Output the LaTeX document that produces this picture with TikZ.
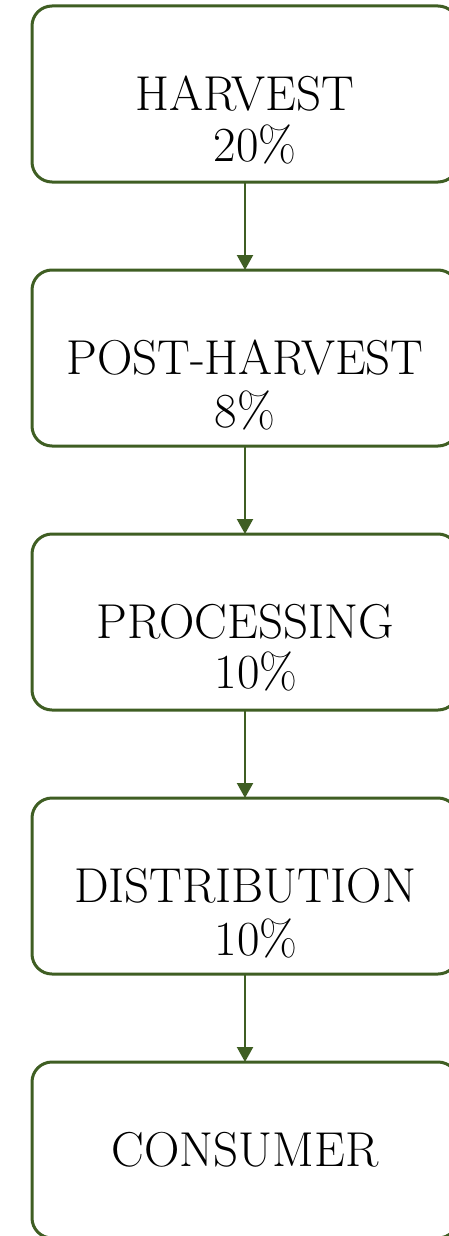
\documentclass[tikz,border=0pt]{standalone}
\usetikzlibrary{positioning,arrows.meta}
\definecolor{leafgreen}{RGB}{63,94,35}

\begin{document}
\begin{tikzpicture}[x=1pt,y=-1pt,
    stagebox/.style={draw=leafgreen, line width=3pt, rounded corners=20pt,
        outer sep=0pt, minimum width=426pt, minimum height=176pt},
    stagename/.style={font=\fontsize{49}{58}\selectfont},
    stagepct/.style={font=\fontsize{49}{58}\selectfont, anchor=base},
    flow/.style={draw=leafgreen, line width=2.2pt, -{Triangle[width=16pt,length=15pt]}}]
    % Page frame (boxes run off the right and bottom edges)
    \useasboundingbox (0,0) rectangle (449,1236);
    \clip (0,0) rectangle (449,1236);

    % Stage boxes
    \node[stagebox] (harvest) at (245,94) {};
    \node[stagebox, below=88pt of harvest] (postharvest) {};
    \node[stagebox, below=88pt of postharvest] (processing) {};
    \node[stagebox, below=88pt of processing] (distribution) {};
    \node[stagebox, below=88pt of distribution] (consumer) {};

    % Stage names
    \node[stagename] (harvestname) at (harvest) {HARVEST};
    \node[stagename] (postharvestname) at (postharvest) {POST-HARVEST};
    \node[stagename] (processingname) at (processing) {PROCESSING};
    \node[stagename] (distributionname) at (distribution) {DISTRIBUTION};
    \node[stagename] (consumername) at (consumer) {CONSUMER};

    % Losses
    \node[stagepct, xshift=10pt] (harvestpct) at ([yshift=-67pt]harvest.center) {20\%};
    \node[stagepct] (postharvestpct) at ([yshift=-69pt]postharvest.center) {8\%};
    \node[stagepct, xshift=11pt] (processingpct) at ([yshift=-66pt]processing.center) {10\%};
    \node[stagepct, xshift=11pt] (distributionpct) at ([yshift=-69pt]distribution.center) {10\%};

    % Flow
    \draw[flow] (harvest) -- (postharvest);
    \draw[flow] (postharvest) -- (processing);
    \draw[flow] (processing) -- (distribution);
    \draw[flow] (distribution) -- (consumer);
\end{tikzpicture}
\end{document}
